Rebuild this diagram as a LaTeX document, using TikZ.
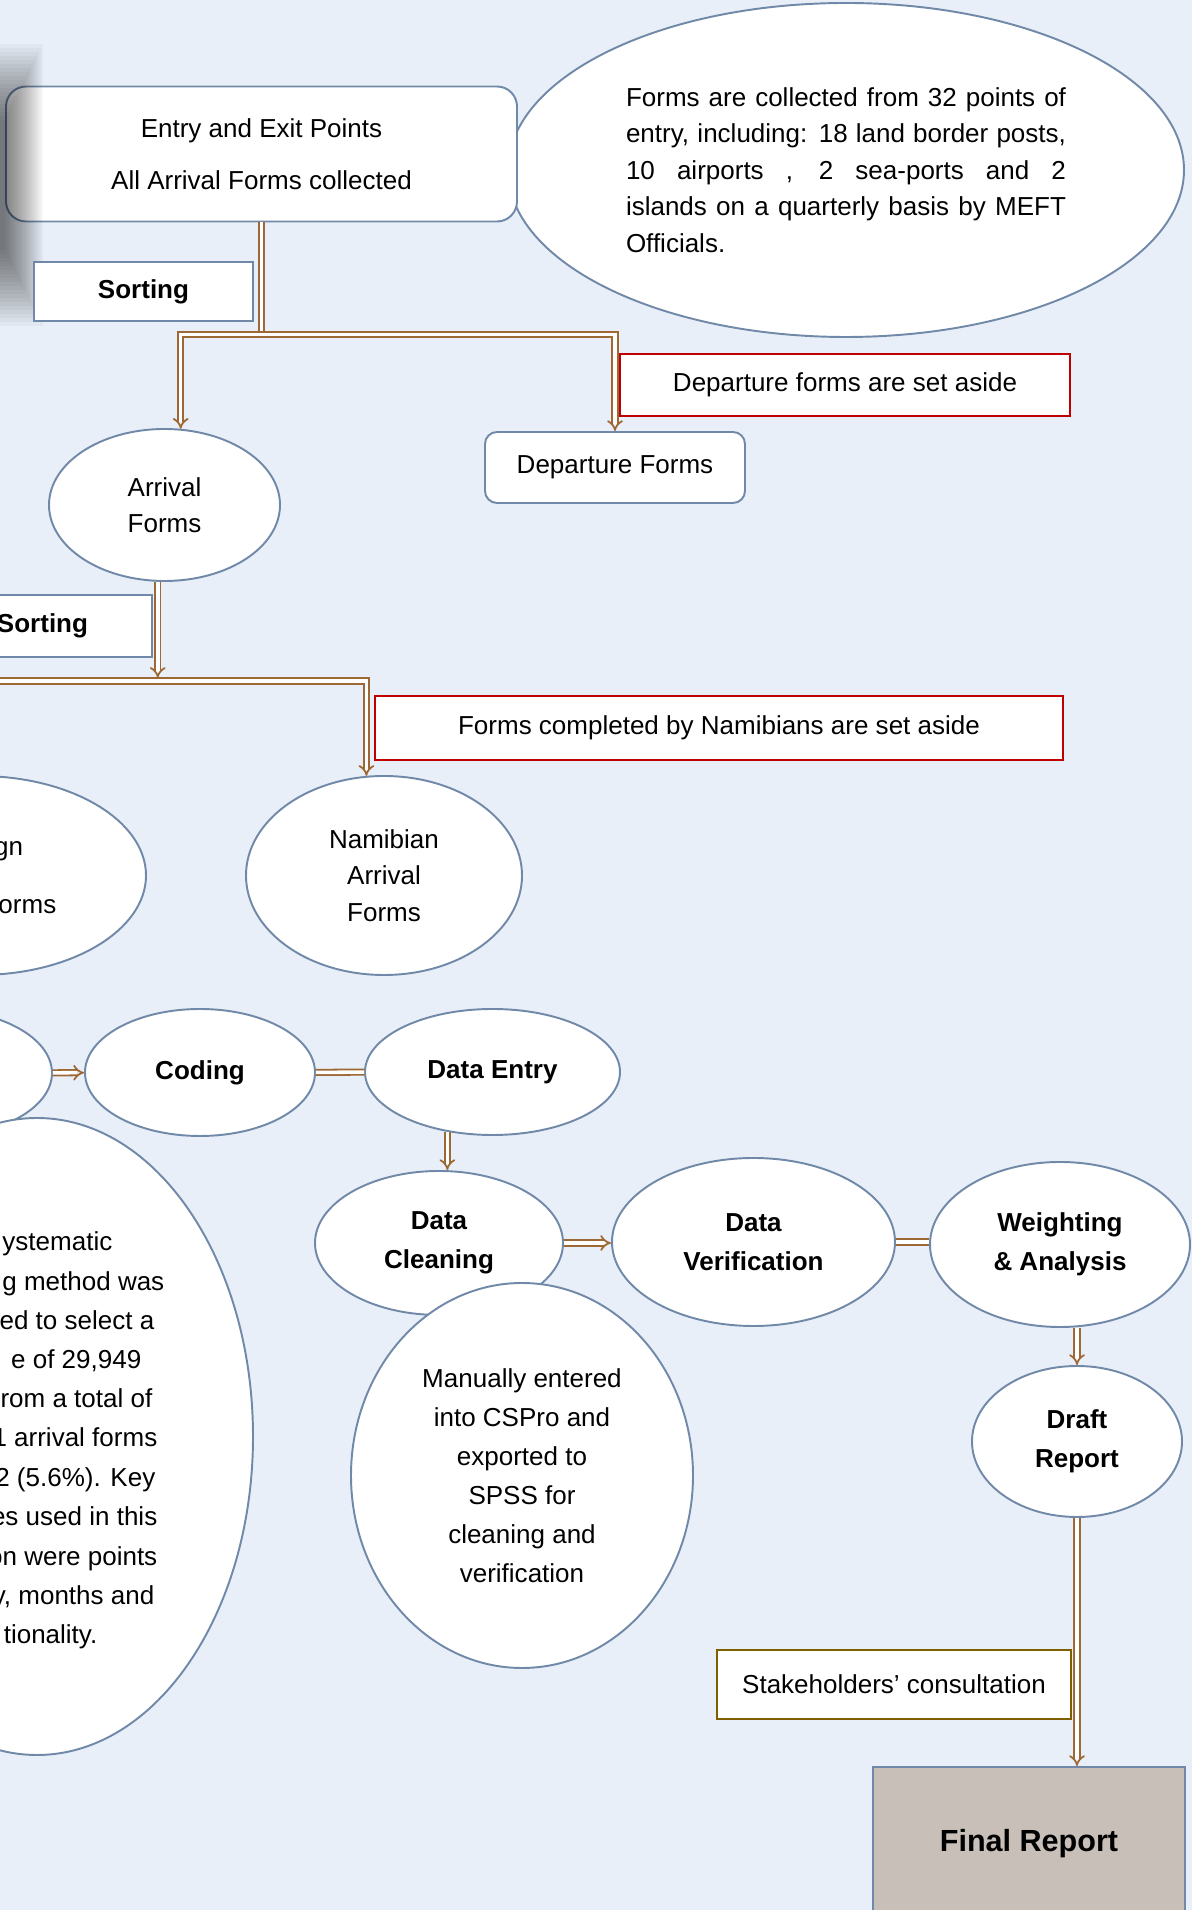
\documentclass[tikz,border=0pt]{standalone}
\usepackage{fontspec}
\setmainfont{Liberation Sans}
\definecolor{flowbg}{RGB}{233,239,248}
\definecolor{flowedge}{RGB}{113,137,168}
\definecolor{flowbrown}{RGB}{158,104,52}
\definecolor{flowred}{RGB}{192,0,0}
\definecolor{flowolive}{RGB}{127,96,0}
\definecolor{flowtaupe}{RGB}{200,191,185}
\usetikzlibrary{arrows.meta,positioning,shapes.geometric,calc}
\newcommand{\flowfont}{\fontsize{7.4}{10.4}\selectfont}
\newcommand{\flowfontwide}{\fontsize{7.4}{11.1}\selectfont}

\begin{document}
\begin{tikzpicture}[
  oval/.style={ellipse, draw=flowedge, fill=white, line width=0.55pt, inner sep=0pt, align=center, font=\flowfont},
  stepoval/.style={oval, font=\flowfontwide\bfseries},
  plainbox/.style={rectangle, draw=flowedge, fill=white, line width=0.55pt, inner sep=0pt, align=center, font=\flowfont},
  notebox/.style={plainbox, draw=flowred, line width=0.65pt},
  sampleline/.style={font=\flowfontwide, inner sep=0pt, anchor=base east},
  conn/.style={draw=flowbrown, line width=0.5pt, double=white, double distance=1.0pt},
  connarrow/.style={conn, -{Implies}},
]
  % Page and background
  \useasboundingbox (0,0) rectangle (11.92,19.10);
  \clip (0,0) rectangle (11.92,19.10);
  \fill[flowbg] (0,0) rectangle (11.92,19.10);

  % Collection
  \node[oval, text width=4.40cm, align=justify, minimum width=6.76cm, minimum height=3.34cm] (pointsnote) at (8.46,17.40)
    {Forms are collected from 32 points of\linebreak entry, including: 18 land border posts,\linebreak 10 airports , 2 sea-ports and 2\linebreak islands on a quarterly basis by MEFT\linebreak Officials.};
  \node[plainbox, rounded corners=0.2cm, minimum width=5.11cm, minimum height=1.35cm] (entry) at (2.615,17.56)
    {Entry and Exit Points\\[4.4pt]All Arrival Forms collected};

  % Shadow at the left edge
  \foreach \k in {1,...,20}
    \fill[black, opacity=0.03] (-0.5,{15.8+0.04*\k}) rectangle ({0.45-0.02*\k},{18.7-0.04*\k});

  % First sorting
  \node[plainbox, minimum width=2.19cm, minimum height=0.59cm, font=\flowfont\bfseries] (sorting1) at (1.435,16.185) {Sorting};
  \coordinate[below=1.12cm of entry] (split1);
  \node[plainbox, rounded corners=0.12cm, minimum width=2.60cm, minimum height=0.71cm] (departure) at (6.15,14.425) {Departure Forms};
  \node[notebox, minimum width=4.50cm, minimum height=0.62cm] (departnote) at (8.45,15.25) {Departure forms are set aside};
  \node[oval, minimum width=2.31cm, minimum height=1.52cm] (arrival) at (1.645,14.05) {Arrival\\Forms};

  % Second sorting
  \node[plainbox, minimum width=2.19cm, minimum height=0.62cm, font=\flowfont\bfseries] (sorting2) at (0.425,12.84) {Sorting};
  \coordinate (split2) at ($(arrival.265)+(0,-0.96)$);
  \coordinate (bar2) at (1.57,12.29);
  \node[oval, minimum width=3.34cm, minimum height=1.99cm] (foreign) at (-0.21,10.345) {Foreign\\[6pt]Arrival Forms};
  \node[oval, minimum width=2.76cm, minimum height=1.99cm] (namibian) at (3.84,10.345) {Namibian\\Arrival\\Forms};
  \node[notebox, minimum width=6.88cm, minimum height=0.64cm] (namibnote) at (7.19,11.82) {Forms completed by Namibians are set aside};

  % Processing
  \node[stepoval, minimum width=2.30cm, minimum height=1.27cm] (sampling) at (-0.63,8.37) {};
  \node[oval, minimum width=4.32cm, minimum height=6.37cm] (samplenote) at (0.37,4.735) {};
  \foreach \yy/\xx/\txt [count=\i] in {6.59/1.13/ystematic, 6.19/1.65/g method was, 5.80/1.55/ed to select a,
      5.41/1.42/{e of 29,949}, 5.02/1.53/rom a total of, 4.63/1.58/1 arrival forms, 4.23/1.56/2 (5.6\%). Key,
      3.84/1.58/es used in this, 3.44/1.58/on were points, 3.05/1.55/{y, months and}, 2.66/0.98/tionality.}
    \node[sampleline] (sampleline\i) at (\xx,\yy) {\txt};
  \node[stepoval, minimum width=2.30cm, minimum height=1.27cm] (coding) at (2.00,8.375) {Coding};
  \node[stepoval, minimum width=2.55cm, minimum height=1.26cm] (dataentry) at (4.925,8.38) {Data Entry};
  \node[stepoval, minimum width=2.48cm, minimum height=1.44cm] (cleaning) at (4.39,6.67) {Data\\Cleaning};
  \node[oval, font=\flowfontwide, minimum width=3.42cm, minimum height=3.85cm] (cspronote) at (5.22,4.345)
    {Manually entered\\into CSPro and\\exported to\\SPSS for\\cleaning and\\verification};
  \node[stepoval, minimum width=2.83cm, minimum height=1.68cm] (verification) at (7.535,6.68) {Data\\Verification};
  \node[stepoval, minimum width=2.60cm, minimum height=1.65cm] (weighting) at (10.60,6.655) {Weighting\\\& Analysis};
  \node[stepoval, minimum width=2.10cm, minimum height=1.51cm] (draft) at (10.77,4.685) {Draft\\Report};

  % Reporting
  \node[plainbox, draw=flowolive, line width=0.65pt, minimum width=3.54cm, minimum height=0.69cm] (stakeholders) at (8.94,2.255) {Stakeholders’ consultation};
  \node[plainbox, fill=flowtaupe, minimum width=3.12cm, minimum height=1.53cm, font=\fontsize{8.7}{10}\selectfont\bfseries] (final) at (10.29,0.665) {Final Report};

  % Connectors
  \draw[conn] (entry) -- (split1);
  \draw[connarrow] (split1) -| (arrival.78);
  \draw[connarrow] (split1) -| (departure.north);
  \draw[connarrow] (arrival.265) -- (split2);
  \draw[connarrow] (bar2) -| (foreign.north);
  \draw[connarrow] (bar2) -| (namibian.100);
  \draw[connarrow] (sampling) -- (coding);
  \draw[conn] (coding) -- (dataentry);
  \draw[connarrow] (dataentry.233) -- (dataentry.233 |- cleaning.north);
  \draw[connarrow] (cleaning.east) -- (cleaning.east -| verification.west);
  \draw[conn] (verification.east) -- (verification.east -| weighting.west);
  \draw[connarrow] (weighting.south -| draft.north) -- (draft.north);
  \draw[connarrow] (draft) -- (draft.south |- final.north);
\end{tikzpicture}
\end{document}
